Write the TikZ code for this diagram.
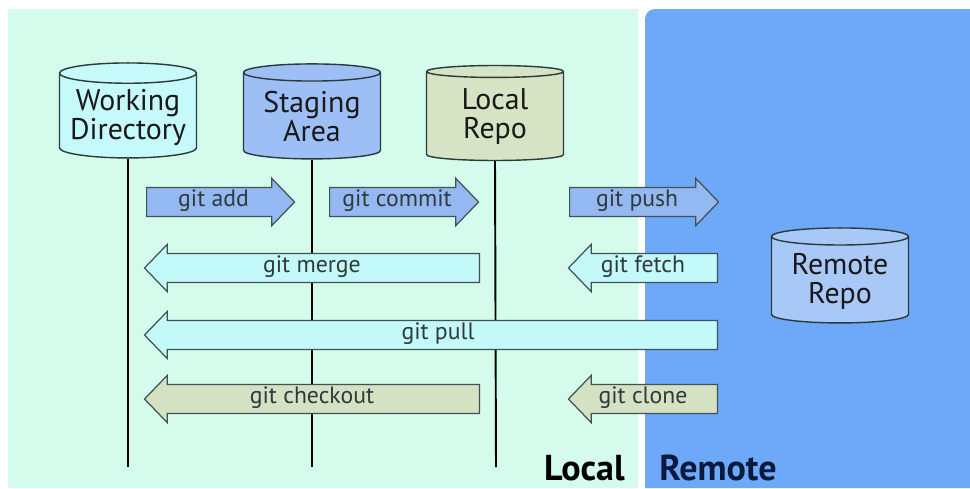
\documentclass[tikz,border=0pt]{standalone}
\usepackage{fontspec}
\setmainfont{PT Sans}
\usetikzlibrary{shapes.geometric, shapes.arrows}

\definecolor{localbg}{HTML}{D4FBEC}
\definecolor{remotebg}{HTML}{6EA8F8}
\definecolor{wdfill}{HTML}{C6F9F9}
\definecolor{safill}{HTML}{9DBFF6}
\definecolor{lrfill}{HTML}{D6E3C4}
\definecolor{rrfill}{HTML}{A8C8F8}
\definecolor{bluearr}{HTML}{94B8F2}
\definecolor{cyanarr}{HTML}{C4F9F9}
\definecolor{olivearr}{HTML}{D5E1C3}
\definecolor{cylline}{HTML}{2B3A3A}
\definecolor{arrline}{HTML}{3F5452}
\definecolor{arrtext}{HTML}{2F3B3B}
\definecolor{remotetxt}{HTML}{0B1A3C}

\tikzset{
    cyl/.style = {cylinder, shape border rotate = 90, aspect = 0.17,
        draw = cylline, line width = 0.8pt, minimum width = 2.74cm,
        minimum height = 1.9cm, inner sep = 1pt, align = center,
        text = black!90, font = \fontsize{17}{16.5}\selectfont},
    blockarrow/.style = {single arrow, draw = arrline, line width = 0.7pt,
        single arrow head extend = 0.18cm, single arrow tip angle = 92,
        text height = 8pt, text depth = 2.5pt, inner ysep = 2.7pt,
        inner xsep = 2pt, text = arrtext, font = \fontsize{13.5}{15}\selectfont},
    toright/.style = {blockarrow, anchor = tail},
    toleft/.style = {blockarrow, shape border rotate = 180, anchor = tail},
    % pulls the label a little toward the head
    midtext/.style = {execute at begin node = \hspace*{-0.28cm}},
    lifeline/.style = {line width = 1.1pt, black},
    sidelabel/.style = {font = \fontsize{20.5}{22}\selectfont\bfseries, inner sep = 0pt}
}

\begin{document}
\begin{tikzpicture}[x = 0.02cm, y = -0.02cm]
    \useasboundingbox[fill = white] (0,0) rectangle (970,488);
    % panels
    \fill[localbg] (8,9) rectangle (638,488);
    \fill[remotebg] (645,488) -- (645,19) arc[start angle = 180, end angle = 90, radius = 0.2cm]
        -- (970,9) -- (970,488) -- cycle;
    % stores
    \node[cyl, fill = wdfill] (wd) at (128,117) {Working\\Directory};
    \node[cyl, fill = safill] (sa) at (312,117) {Staging\\Area};
    \node[cyl, fill = lrfill] (lr) at (495,117) {Local\\Repo};
    \node[cyl, fill = rrfill] (rr) at (840,281) {Remote\\Repo};
    % lifelines
    \coordinate (wdend) at (128,467);
    \coordinate (saend) at (312,467);
    \coordinate (lrend) at (496,467);
    \draw[lifeline] (wd.south) -- (wdend);
    \draw[lifeline] (sa.south) -- (saend);
    \draw[lifeline] (lr.south) -- (lrend);
    % commands
    \node[toright, fill = bluearr, minimum height = 2.96cm] (add) at (146,202) {git add};
    \node[toright, fill = bluearr, minimum height = 2.98cm] (commit) at (329,202) {git commit};
    \node[toright, fill = bluearr, minimum height = 2.98cm] (push) at (569,202) {git push};
    \node[toleft, midtext, fill = cyanarr, minimum height = 6.7cm] (merge) at (480,268) {git merge};
    \node[toleft, midtext, fill = cyanarr, minimum height = 2.98cm] (fetch) at (718,268) {git fetch};
    \node[toleft, fill = cyanarr, minimum height = 11.46cm] (pull) at (718,335) {git pull};
    \node[toleft, midtext, fill = olivearr, minimum height = 6.7cm] (checkout) at (480,399) {git checkout};
    \node[toleft, midtext, fill = olivearr, minimum height = 2.98cm] (clone) at (718,399) {git clone};
    % sides
    \node[sidelabel, anchor = base east] (loclabel) at (625,480) {Local};
    \node[sidelabel, text = remotetxt, anchor = base west] (remlabel) at (659,480) {Remote};
\end{tikzpicture}
\end{document}
